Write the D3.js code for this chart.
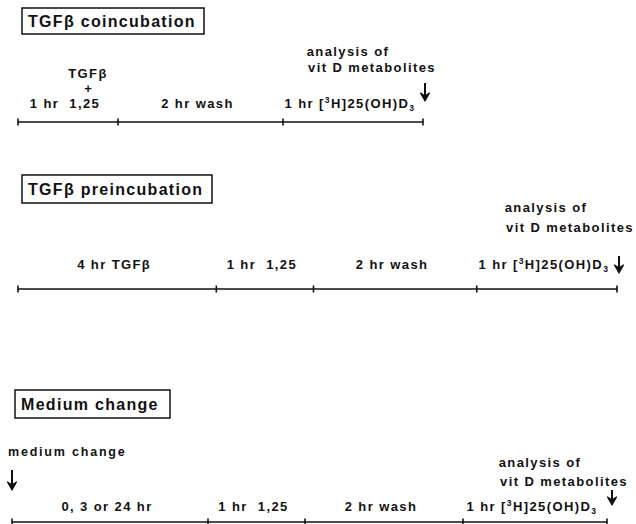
<!DOCTYPE html>
<html><head><meta charset="utf-8">
<script src="https://cdn.jsdelivr.net/npm/d3@7"></script>
<style>
html,body{margin:0;padding:0;background:#fff;}
svg{display:block;}
text{font-family:"Liberation Sans",Arial,Helvetica,sans-serif;font-weight:bold;fill:#111;}
</style></head>
<body>
<script>
// ---- data ----
const panelTitles = ["TGFβ coincubation", "TGFβ preincubation", "Medium change"];
// segment labels per protocol
const coincubationLabels = ["1 hr  1,25", "2 hr wash", "1 hr [3H]25(OH)D3"];
const preincubationLabels = ["4 hr TGFβ", "1 hr  1,25", "2 hr wash", "1 hr [3H]25(OH)D3"];
const mediumChangeLabels = ["0, 3 or 24 hr", "1 hr  1,25", "2 hr wash", "1 hr [3H]25(OH)D3"];
// relative drawn lengths of the segments (schematic units, not to time scale)
const coincubationSpans = [100, 165, 140];
const preincubationSpans = [198, 97, 163, 140];
const mediumChangeSpans = [196, 97, 158, 144];
const endNote = ["analysis of", "vit D metabolites"];
const startNote = "medium change";
const coAdditive = ["TGFβ", "+"];

// ---- layout ----
const W = 636, H = 524;
const svg = d3.select("body").append("svg").attr("width", W).attr("height", H);

const panels = [
  {title: panelTitles[0], labels: coincubationLabels, spans: coincubationSpans,
   range: [18, 423], lineY: 122, labelGap: 14, box: [22, 8, 182, 26],
   note: {x: 372, y1: 56, y2: 72}, arrow: {x: 425, y1: 83, y2: 101}},
  {title: panelTitles[1], labels: preincubationLabels, spans: preincubationSpans,
   range: [18, 617], lineY: 289, labelGap: 20, box: [22, 175, 190, 28],
   note: {x: 570, y1: 212, y2: 232}, arrow: {x: 619, y1: 256, y2: 273}},
  {title: panelTitles[2], labels: mediumChangeLabels, spans: mediumChangeSpans,
   range: [12, 607], lineY: 522, labelGap: 11, box: [15, 390, 155, 28],
   note: {x: 564, y1: 467, y2: 486}, arrow: {x: 612, y1: 490, y2: 505}}
];

function arrowDown(g, x, y1, y2) {
  g.append("line").attr("x1", x).attr("x2", x).attr("y1", y1).attr("y2", y2 - 3)
    .attr("stroke", "#111").attr("stroke-width", 2);
  g.append("path").attr("d", `M${x-4.5},${y2-8} L${x},${y2} L${x+4.5},${y2-8} L${x},${y2-5} Z`)
    .attr("fill", "#111").attr("stroke", "#111").attr("stroke-width", 1.2).attr("stroke-linejoin", "round");
}

function labelText(g, x, y, s) {
  const t = g.append("text").attr("x", x).attr("y", y).attr("text-anchor", "middle")
    .attr("font-size", 13).attr("letter-spacing", 1.4).attr("xml:space", "preserve");
  const m = s.match(/^(.*)\[3H\](.*)D3$/);
  if (m) {
    t.append("tspan").text(m[1] + "[");
    t.append("tspan").attr("font-size", 8.5).attr("dy", -5).text("3");
    t.append("tspan").attr("dy", 5).text("H]" + m[2] + "D");
    t.append("tspan").attr("font-size", 8.5).attr("dy", 3).text("3");
  } else {
    t.text(s);
  }
  return t;
}

panels.forEach((p, i) => {
  const g = svg.append("g");
  const cum = [0];
  p.spans.forEach(v => cum.push(cum[cum.length - 1] + v));
  const x = d3.scaleLinear().domain([0, cum[cum.length - 1]]).range(p.range);

  // title box
  g.append("rect").attr("x", p.box[0]).attr("y", p.box[1]).attr("width", p.box[2]).attr("height", p.box[3])
    .attr("fill", "none").attr("stroke", "#111").attr("stroke-width", 1.5);
  g.append("text").attr("x", p.box[0] + 6).attr("y", p.box[1] + p.box[3] / 2 + 6)
    .attr("font-size", 16).attr("letter-spacing", 1.3).text(p.title);

  // timeline
  g.append("line").attr("x1", x(0)).attr("x2", x(cum[cum.length - 1]))
    .attr("y1", p.lineY).attr("y2", p.lineY).attr("stroke", "#111").attr("stroke-width", 1.6);
  g.selectAll(".tick").data(cum).enter().append("line")
    .attr("x1", d => x(d)).attr("x2", d => x(d))
    .attr("y1", p.lineY - 3.5).attr("y2", p.lineY + 3.5)
    .attr("stroke", "#111").attr("stroke-width", 1.6);

  // segment labels
  p.spans.forEach((v, k) => {
    const cx = x(cum[k] + v / 2) - 3;
    labelText(g, cx, p.lineY - p.labelGap, p.labels[k]);
  });

  // end note + arrow
  g.append("text").attr("x", p.note.x - 24).attr("y", p.note.y1).attr("text-anchor", "middle")
    .attr("font-size", 13).attr("letter-spacing", 1.4).text(endNote[0]);
  g.append("text").attr("x", p.note.x).attr("y", p.note.y2).attr("text-anchor", "middle")
    .attr("font-size", 13).attr("letter-spacing", 1.4).text(endNote[1]);
  arrowDown(g, p.arrow.x, p.arrow.y1, p.arrow.y2);

  if (i === 0) {
    const cx = x(p.spans[0] / 2) + 20;
    g.append("text").attr("x", cx).attr("y", 78).attr("text-anchor", "middle")
      .attr("font-size", 13).attr("letter-spacing", 1.4).text(coAdditive[0]);
    g.append("text").attr("x", cx).attr("y", 93).attr("text-anchor", "middle")
      .attr("font-size", 13).text(coAdditive[1]);
  }
  if (i === 2) {
    g.append("text").attr("x", 8).attr("y", 456).attr("font-size", 12.5)
      .attr("letter-spacing", 1.8).text(startNote);
    arrowDown(g, 12, 470, 490);
  }
});
</script>
</body></html>
